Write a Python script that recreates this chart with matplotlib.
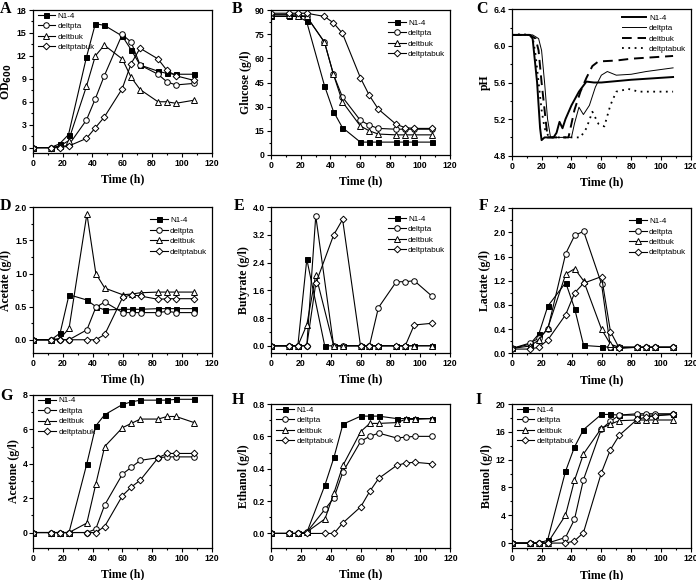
import matplotlib
matplotlib.use("Agg")
import matplotlib.pyplot as plt
from matplotlib.ticker import MultipleLocator

# ---------------- data ----------------
T = [0, 12, 18, 24, 36, 42, 48, 60, 66, 72, 84, 90, 96, 108]
T_E = [0, 12, 18, 24, 30, 42, 48, 60, 66, 72, 84, 90, 96, 108]
strains = ["N1-4", "deltpta", "deltbuk", "deltptabuk"]

od_n14 = [0, 0, 0.5, 1.7, 11.8, 16.2, 16.0, 14.6, 12.8, 10.8, 10.0, 9.7, 9.6, 9.6]
od_pta = [0, 0, 0.1, 0.3, 3.6, 6.4, 9.4, 14.8, 13.8, 10.8, 9.6, 8.6, 8.2, 8.4]
od_buk = [0, 0, 0.2, 0.9, 8.0, 12.0, 13.4, 11.6, 9.2, 7.6, 6.0, 6.0, 5.8, 6.2]
od_ptabuk = [0, 0, 0, 0.2, 1.2, 2.6, 4.0, 7.7, 11.0, 13.0, 11.6, 10.1, 9.4, 8.8]

glc_n14 = [86, 86, 86, 83, 43, 27, 17, 8, 8, 8, 8, 8, 8, 8]
glc_pta = [87, 87, 87, 86, 70, 50, 36, 21.5, 18.5, 16.5, 16, 16, 16, 16]
glc_buk = [87, 87, 86, 86, 70, 50, 33, 18, 15, 13, 12.5, 12.5, 12.5, 12.5]
glc_ptabuk = [88, 88, 88, 88, 86, 82, 75.5, 48, 37, 28.5, 19, 17, 16.5, 16.5]

ph_t_n14 = [0, 12, 14, 17, 19, 20, 22, 28, 30, 32, 34, 36, 40, 45, 50, 55, 60, 80, 108]
ph_n14 = [6.12, 6.12, 6.08, 5.6, 5.1, 4.97, 5.0, 5.0, 5.05, 5.17, 5.1, 5.2, 5.35, 5.5, 5.61, 5.6, 5.6, 5.63, 5.66]
ph_t_pta = [0, 14, 18, 20, 22, 24, 26, 40, 42, 45, 48, 52, 56, 60, 64, 70, 80, 90, 108]
ph_pta = [6.12, 6.12, 6.08, 5.95, 5.6, 5.2, 5.0, 5.0, 5.15, 5.33, 5.25, 5.35, 5.55, 5.68, 5.72, 5.68, 5.69, 5.72, 5.76]
ph_t_buk = [0, 12, 16, 18, 20, 22, 24, 38, 42, 46, 50, 54, 58, 70, 80, 108]
ph_buk = [6.12, 6.12, 6.08, 5.95, 5.6, 5.3, 5.0, 5.0, 5.3, 5.5, 5.65, 5.78, 5.83, 5.84, 5.86, 5.89]
ph_t_ptabuk = [0, 8, 14, 16, 18, 20, 22, 25, 46, 50, 54, 58, 62, 66, 70, 78, 85, 108]
ph_ptabuk = [6.12, 6.13, 6.1, 5.9, 5.6, 5.3, 5.1, 5.0, 5.0, 5.1, 5.28, 5.15, 5.12, 5.35, 5.5, 5.53, 5.5, 5.5]

ace_n14 = [0, 0, 0.1, 0.68, 0.6, 0.5, 0.45, 0.46, 0.46, 0.46, 0.47, 0.47, 0.47, 0.47]
ace_pta = [0, 0, 0, 0, 0.15, 0.49, 0.57, 0.41, 0.41, 0.41, 0.41, 0.43, 0.41, 0.41]
ace_buk = [0, 0, 0.02, 0.17, 1.9, 1.0, 0.78, 0.68, 0.69, 0.71, 0.72, 0.72, 0.72, 0.72]
ace_ptabuk = [0, 0, 0, 0, 0, 0, 0.08, 0.64, 0.68, 0.66, 0.61, 0.62, 0.62, 0.62]

but_n14 = [0, 0, 0, 2.5, 0, 0, 0, 0, 0, 0, 0, 0, 0, 0]
but_pta = [0, 0, 0, 0, 3.75, 0, 0, 0, 0, 1.1, 1.85, 1.85, 1.88, 1.43]
but_buk = [0, 0, 0, 0.6, 2.05, 0, 0, 0, 0, 0, 0, 0, 0, 0]
but_ptabuk = [0, 0, 0, 0, 1.8, 3.2, 3.65, 0, 0, 0, 0, 0, 0.6, 0.65]

lac_n14 = [0.08, 0.15, 0.32, 0.78, 1.17, 0.74, 0.13, 0.11, 0.1, 0.1, 0.1, 0.1, 0.1, 0.1]
lac_pta = [0.08, 0.17, 0.25, 0.4, 1.65, 1.95, 2.02, 1.15, 0.1, 0.1, 0.1, 0.1, 0.1, 0.1]
lac_buk = [0.08, 0.12, 0.22, 0.42, 1.31, 1.4, 1.2, 0.4, 0.15, 0.1, 0.1, 0.1, 0.1, 0.1]
lac_ptabuk = [0.07, 0.07, 0.1, 0.22, 0.64, 1.0, 1.16, 1.27, 0.36, 0.08, 0.1, 0.1, 0.1, 0.1]

acn_n14 = [0, 0, 0, 0, 4.0, 6.2, 6.85, 7.45, 7.6, 7.7, 7.7, 7.7, 7.75, 7.75]
acn_pta = [0, 0, 0, 0, 0, 0.2, 1.6, 3.4, 3.8, 4.2, 4.35, 4.4, 4.4, 4.4]
acn_buk = [0, 0, 0, 0, 0.55, 2.8, 5.0, 6.1, 6.35, 6.6, 6.6, 6.75, 6.75, 6.4]
acn_ptabuk = [0, 0, 0, 0, 0, 0, 0.35, 2.15, 2.65, 3.05, 4.35, 4.6, 4.6, 4.6]

eth_n14 = [0, 0, 0, 0.01, 0.3, 0.47, 0.675, 0.725, 0.725, 0.725, 0.71, 0.71, 0.71, 0.71]
eth_pta = [0, 0, 0, 0.01, 0.15, 0.22, 0.38, 0.57, 0.6, 0.62, 0.59, 0.595, 0.6, 0.6]
eth_buk = [0, 0, 0, 0.01, 0.09, 0.25, 0.42, 0.63, 0.68, 0.68, 0.685, 0.705, 0.705, 0.71]
eth_ptabuk = [0, 0, 0, 0, 0, 0, 0.065, 0.165, 0.26, 0.34, 0.42, 0.435, 0.44, 0.43]

bol_n14 = [0, 0, 0, 0.4, 10.3, 13.8, 16.3, 18.5, 18.5, 18.4, 18.4, 18.4, 18.4, 18.5]
bol_pta = [0, 0, 0, 0, 0.8, 3.4, 9.1, 16.4, 17.5, 18.4, 18.6, 18.6, 18.6, 18.6]
bol_buk = [0, 0, 0, 0, 4.0, 9.0, 12.8, 16.5, 17.1, 17.6, 17.7, 17.7, 17.7, 17.7]
bol_ptabuk = [0, 0, 0, 0, 0, 0.3, 1.5, 10.1, 13.4, 15.5, 17.8, 18.1, 18.3, 18.5]

# ---------------- style ----------------
W, H = 696, 580
fig = plt.figure(figsize=(W / 100, H / 100), dpi=100)

SANS = "Liberation Sans"
SERIF = "Liberation Serif"
markers = [("s", "black"), ("o", "white"), ("^", "white"), ("D", "white")]
msizes = [3.6, 4.0, 4.2, 3.4]


def make_ax(x0, y0, x1, y1):
    return fig.add_axes([x0 / W, (H - y1) / H, (x1 - x0) / W, (y1 - y0) / H])


def style(ax, ylim, ystep, ylabel, fmt=None):
    ax.set_xlim(0, 120)
    ax.set_ylim(*ylim)
    ax.xaxis.set_major_locator(MultipleLocator(20))
    ax.xaxis.set_minor_locator(MultipleLocator(10))
    ax.yaxis.set_major_locator(MultipleLocator(ystep))
    ax.yaxis.set_minor_locator(MultipleLocator(ystep / 2))
    ax.tick_params(which="both", direction="out", top=False, right=False, width=0.8)
    ax.tick_params(which="major", length=2.8, pad=1.5)
    ax.tick_params(which="minor", length=1.6)
    for s in ax.spines.values():
        s.set_linewidth(0.9)
    for lab in ax.get_xticklabels() + ax.get_yticklabels():
        lab.set_fontfamily(SANS)
        lab.set_fontweight("bold")
        lab.set_fontsize(6.3)
    if fmt:
        ax.yaxis.set_major_formatter(plt.FormatStrFormatter(fmt))
    ax.set_xlabel("Time (h)", fontfamily=SERIF, fontweight="bold", fontsize=8.5, labelpad=4)
    ax.set_ylabel(ylabel, fontfamily=SERIF, fontweight="bold", fontsize=8.5, labelpad=2)


def plot_series(ax, xs_list, ys_list):
    for (m, fc), ms, xs, ys, name in zip(markers, msizes, xs_list, ys_list, strains):
        ax.plot(xs, ys, color="black", lw=0.8, marker=m, markersize=ms,
                markerfacecolor=fc, markeredgecolor="black", markeredgewidth=0.7,
                label=name)


def legend(ax, loc, anchor):
    leg = ax.legend(loc=loc, bbox_to_anchor=anchor, frameon=False,
                    prop={"family": SANS, "size": 5.8}, handlelength=2.2,
                    handletextpad=0.3, labelspacing=0.35, borderaxespad=0.2)
    return leg


def letter(x, y, s):
    fig.text(x / W, 1 - y / H, s, fontfamily=SERIF, fontweight="bold",
             fontsize=11.5, ha="left", va="center")


# Panel A
axA = make_ax(32.7, 10, 211.7, 153)
plot_series(axA, [T] * 4, [od_n14, od_pta, od_buk, od_ptabuk])
style(axA, (-0.7, 18), 3, "OD$_{\\mathbf{600}}$")
legend(axA, "upper left", (0.0, 1.02))

# Panel B
axB = make_ax(270.7, 10, 450, 155)
plot_series(axB, [T] * 4, [glc_n14, glc_pta, glc_buk, glc_ptabuk])
style(axB, (0, 90), 15, "Glucose (g/l)")
legend(axB, "upper right", (1.0, 0.97))

# Panel C
axC = make_ax(511.7, 9.3, 691, 155.7)
axC.plot(ph_t_n14, ph_n14, color="black", lw=1.4, label="N1-4")
axC.plot(ph_t_pta, ph_pta, color="black", lw=0.7, label="deltpta")
axC.plot(ph_t_buk, ph_buk, color="black", lw=1.4, ls=(0, (5, 3)), label="deltbuk")
axC.plot(ph_t_ptabuk, ph_ptabuk, color="black", lw=1.3, ls=(0, (1, 2.5)), label="deltptabuk")
style(axC, (4.8, 6.4), 0.4, "pH", fmt="%.1f")
axC.legend(loc="upper right", bbox_to_anchor=(1.0, 1.0), frameon=False,
           prop={"family": SANS, "size": 5.8}, handlelength=3.0,
           handletextpad=0.4, labelspacing=0.35, borderaxespad=0.2)

# Panel D
axD = make_ax(33.3, 207.3, 212, 353)
plot_series(axD, [T] * 4, [ace_n14, ace_pta, ace_buk, ace_ptabuk])
style(axD, (-0.2, 2.0), 0.5, "Acetate (g/l)", fmt="%.1f")
legend(axD, "upper right", (1.0, 0.97))

# Panel E
axE = make_ax(271, 207.3, 450, 352.7)
plot_series(axE, [T, T_E, T_E, T_E], [but_n14, but_pta, but_buk, but_ptabuk])
style(axE, (-0.2, 4.0), 0.8, "Butyrate (g/l)", fmt="%.1f")
legend(axE, "upper right", (1.0, 0.98))

# Panel F
axF = make_ax(512, 208.3, 691, 353.3)
plot_series(axF, [T] * 4, [lac_n14, lac_pta, lac_buk, lac_ptabuk])
style(axF, (0, 2.4), 0.4, "Lactate (g/l)", fmt="%.1f")
legend(axF, "upper right", (1.0, 0.97))

# Panel G
axG = make_ax(33.3, 395, 211.7, 548)
plot_series(axG, [T] * 4, [acn_n14, acn_pta, acn_buk, acn_ptabuk])
style(axG, (-0.9, 8), 2, "Acetone (g/l)")
legend(axG, "upper left", (0.0, 1.02))

# Panel H
axH = make_ax(271.3, 404, 450.3, 548)
plot_series(axH, [T] * 4, [eth_n14, eth_pta, eth_buk, eth_ptabuk])
style(axH, (-0.09, 0.8), 0.2, "Ethanol (g/l)", fmt="%.1f")
legend(axH, "upper left", (0.0, 1.02))

# Panel I
axI = make_ax(511.7, 404, 691, 548.3)
plot_series(axI, [T] * 4, [bol_n14, bol_pta, bol_buk, bol_ptabuk])
style(axI, (-0.75, 20), 4, "Butanol (g/l)")
legend(axI, "upper left", (0.0, 1.02))

letter(0, 9, "A")
letter(232, 9, "B")
letter(476, 9, "C")
letter(0, 206, "D")
letter(234, 206, "E")
letter(479, 206, "F")
letter(0, 396, "G")
letter(232, 400, "H")
letter(475, 400, "I")

fig.savefig("out.png", dpi=100)
